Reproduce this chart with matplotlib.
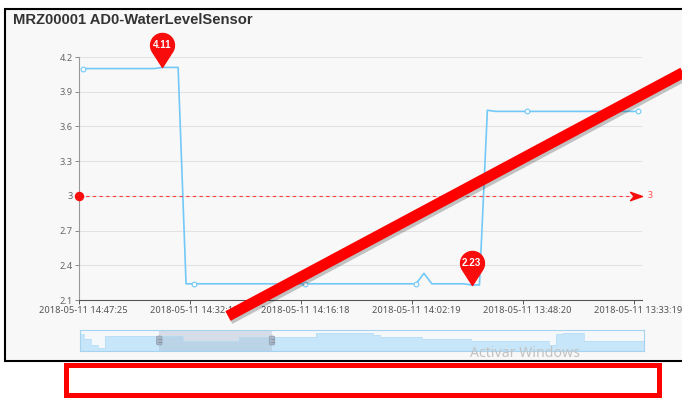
import matplotlib.pyplot as plt
import numpy as np
from matplotlib.path import Path
from matplotlib.lines import Line2D
from matplotlib.patches import Rectangle, FancyBboxPatch
import matplotlib.patheffects as pe

plt.rcParams['font.family'] = ['Noto Sans', 'DejaVu Sans']
bold_font = ['Liberation Sans', 'DejaVu Sans']

title = 'MRZ00001 AD0-WaterLevelSensor'

# sensor readings inside the zoom window (newest first)
level = [4.10, 4.10, 4.10, 4.10, 4.10, 4.10, 4.10, 4.10, 4.10, 4.10,
         4.11, 4.11, 4.11,
         2.24, 2.24, 2.24, 2.24, 2.24, 2.24, 2.24, 2.24, 2.24, 2.24,
         2.24, 2.24, 2.24, 2.24, 2.24, 2.24, 2.24, 2.24, 2.24, 2.24,
         2.24, 2.24, 2.24, 2.24, 2.24, 2.24, 2.24, 2.24, 2.24, 2.24,
         2.33,
         2.24, 2.24, 2.24, 2.24, 2.24,
         2.23, 2.23,
         3.74,
         3.73, 3.73, 3.73, 3.73, 3.73, 3.73, 3.73, 3.73, 3.73, 3.73,
         3.73, 3.73, 3.73, 3.73, 3.73, 3.73, 3.73, 3.73, 3.73]
tick_times = ['2018-05-11 14:47:25', '2018-05-11 14:32:18', '2018-05-11 14:16:18',
              '2018-05-11 14:02:19', '2018-05-11 13:48:20', '2018-05-11 13:33:19']
tick_every = 14

# whole record, shown in the slider
overview = [5.09, 2.96, 0.54, -0.87,
            4.10, 4.10, 4.10, 4.10, 4.10, 4.10, 4.10, 4.10, 4.10, 4.10, 4.10,
            2.24, 2.24, 2.24, 2.24, 2.24, 2.24, 2.24, 2.24,
            3.73, 3.73, 3.73, 3.73, 3.73, 3.73, 3.73, 3.73, 3.73, 3.73, 3.73,
            5.39, 5.39, 5.39, 5.39, 5.39, 5.39, 5.39, 5.39,
            4.66,
            3.94, 3.94, 3.94, 3.94, 3.94, 3.94,
            2.96, 2.96, 2.96, 2.96, 2.96, 2.96, 2.96,
            1.98, 1.98, 1.98, 1.98, 1.98, 1.98, 1.98, 1.98, 1.98, 1.98, 1.98,
            0.60, 5.09,
            5.39, 5.39, 5.39,
            1.98, 1.98, 1.98, 1.98, 1.98, 1.98, 1.98, 1.98, 1.98]
zoom_start, zoom_end = 14, 34  # percent of the record

alarm_level = 3

blue = '#72c8f7'
red = '#f90c0c'

W, H = 682, 398
fig = plt.figure(figsize=(W / 100, H / 100), dpi=100)
fig.patch.set_facecolor('white')


def fx(px):
    return px / W


def fy(py):
    return 1 - py / H


# panel with black border
fig.add_artist(Rectangle((fx(5), fy(361)), fx(740) - fx(5), (361 - 9) / H,
                         transform=fig.transFigure, facecolor='#f8f8f8',
                         edgecolor='black', lw=1.5, zorder=0))

fig.text(fx(13), fy(20.5), title, fontsize=10.6, weight='bold', color='#333333',
         va='center', ha='left', family=bold_font)

ax = fig.add_axes([fx(79), fy(300), (642 - 79) / W, (300 - 57) / H])
ax.set_facecolor('none')

x = np.arange(len(level))
ax.plot(x, level, color=blue, lw=1.2, marker='o', ms=3.4, mfc='white',
        mec=blue, mew=0.8, markevery=tick_every, zorder=3)

ax.set_xlim(-0.5, len(level) - 0.5)
ax.set_ylim(2.1, 4.2)
yt = np.arange(2.1, 4.21, 0.3)
ax.set_yticks(yt)
ax.set_yticklabels(['%g' % v for v in yt])
ax.set_xticks(np.arange(-0.5, len(level), tick_every))
ax.set_xticklabels([])
ax.set_xticks(np.arange(0, len(level), tick_every), minor=True)
ax.set_xticklabels(tick_times, minor=True)
ax.tick_params(axis='x', which='major', length=3, width=0.7, color='#555555')
ax.tick_params(axis='x', which='minor', length=0, pad=4.6, labelsize=6.7,
               labelcolor='#555555')
ax.tick_params(axis='y', length=3, width=0.7, color='#888888', pad=1.6,
               labelsize=6.6, labelcolor='#666666')
for s in ['top', 'right']:
    ax.spines[s].set_visible(False)
ax.spines['left'].set_color('#999999')
ax.spines['left'].set_linewidth(0.8)
ax.spines['bottom'].set_color('#555555')
ax.spines['bottom'].set_linewidth(0.8)
ax.yaxis.grid(True, color='#e2e2e2', lw=0.75)
ax.set_axisbelow(True)

# alarm line at 3 with dot and arrow
ytr = ax.get_yaxis_transform()
ax.plot([0, (630 - 79) / 563], [alarm_level, alarm_level], transform=ytr,
        color='#ff3d3d', lw=0.8, ls=(0, (3, 3)), clip_on=False, zorder=4)
ax.plot([0], [alarm_level], 'o', transform=ytr, ms=5.8, color=red,
        clip_on=False, zorder=5)
arrow = Path([(1, 0), (-1, 0.7), (-0.4, 0), (-1, -0.7), (1, 0)],
             [Path.MOVETO, Path.LINETO, Path.LINETO, Path.LINETO, Path.CLOSEPOLY])
ax.plot([1 - 6 / 563], [alarm_level], marker=arrow, ms=8.6, color=red, lw=0,
        transform=ytr, clip_on=False, zorder=5)
ax.text(1 + 6 / 563, alarm_level, '%g' % alarm_level, transform=ytr,
        fontsize=6.3, color='#ff4a4a', va='center', ha='left')

# pin markers for max / min
r, h = 1.0, 1.85
beta = np.arccos(r / h)
ang = np.linspace(-np.pi / 2 + beta, 3 * np.pi / 2 - beta, 40)
pin_verts = [(0, 0)] + [(r * np.cos(a), h + r * np.sin(a)) for a in ang] + [(0, 0)]
pin = Path(pin_verts, [Path.MOVETO] + [Path.LINETO] * len(ang) + [Path.CLOSEPOLY])
pin_ms = 49
for i in [int(np.argmax(level)), int(np.argmin(level))]:
    ax.plot([i], [level[i]], marker=pin, ms=pin_ms, color=red, lw=0,
            clip_on=False, zorder=6)
    ax.annotate('%.2f' % level[i], (i, level[i]), xytext=(0, pin_ms / 2 * h / (h + r)),
                textcoords='offset points', ha='center', va='center',
                fontsize=7, color='white', weight='bold', family=bold_font,
                zorder=7)

# data zoom slider
sl = fig.add_axes([fx(80.4), fy(351.3), (644 - 80.4) / W, 21.6 / H])
sl.set_facecolor('#f4f8fb')
xs = np.linspace(0, 100, len(overview))
sl.fill_between(xs, -2.27, overview, step='mid', color='#c8e6fa', lw=0)
sl.step(xs, overview, where='mid', color='#b5dcf5', lw=0.5)
sl.axvspan(zoom_start, zoom_end, color=(167 / 255, 183 / 255, 204 / 255, 0.4), lw=0)
sl.set_xlim(0, 100)
sl.set_ylim(-2.27, 6.92)
sl.set_xticks([])
sl.set_yticks([])
for s in sl.spines.values():
    s.set_color('#a6d3f0')
    s.set_linewidth(0.8)
for p in [zoom_start, zoom_end]:
    hx = 80.4 + p / 100 * (644 - 80.4)
    fig.add_artist(FancyBboxPatch((fx(hx - 2.7), fy(345)), 5.4 / W, 9 / H,
                                  boxstyle='round,pad=0,rounding_size=0.003',
                                  transform=fig.transFigure, facecolor='#a9b6c6',
                                  edgecolor='#8e9cae', lw=0.5, zorder=5))
    for yy in [339, 342]:
        fig.add_artist(Line2D([fx(hx - 1.5), fx(hx + 1.5)], [fy(yy), fy(yy)],
                              transform=fig.transFigure, color='#7b899b', lw=0.5,
                              zorder=6))

fig.text(fx(470), fy(353.5), 'Activar Windows', fontsize=10.2, color='#c2c2c2',
         va='center', ha='left')

# highlight marks drawn over the screenshot
fig.add_artist(Line2D([fx(228), fx(700)], [fy(316), fy(316 - 0.535 * 472)],
                      transform=fig.transFigure, color='#ff0000', lw=7.9,
                      solid_capstyle='butt', zorder=10,
                      path_effects=[pe.SimpleLineShadow(offset=(1.2, -2.2),
                                                        shadow_color='black',
                                                        alpha=0.22),
                                    pe.Normal()]))
fig.add_artist(Rectangle((fx(65.5), fy(394.5)), (658.5 - 65.5) / W, (394.5 - 364.5) / H,
                         transform=fig.transFigure, facecolor='white',
                         edgecolor='#ff0000', lw=3.6, zorder=10))

fig.savefig('out.png', dpi=100)
